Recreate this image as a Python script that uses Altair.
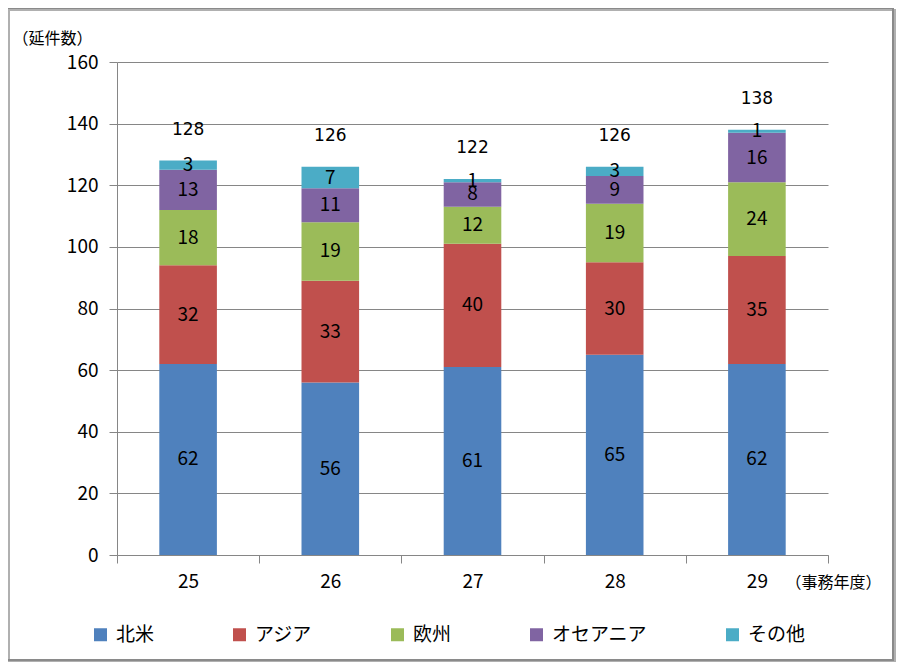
import altair as alt
import pandas as pd

years = ["25", "26", "27", "28", "29"]
regions = ["北米", "アジア", "欧州", "オセアニア", "その他"]
north_america = [62, 56, 61, 65, 62]
asia = [32, 33, 40, 30, 35]
europe = [18, 19, 12, 19, 24]
oceania = [13, 11, 8, 9, 16]
other = [3, 7, 1, 3, 1]
colors = ["#4F81BD", "#C0504D", "#9BBB59", "#8064A2", "#4BACC6"]
y_ticks = [0, 20, 40, 60, 80, 100, 120, 140, 160]

series = [north_america, asia, europe, oceania, other]
rows = []
for i, (reg, vals) in enumerate(zip(regions, series)):
    for y, v in zip(years, vals):
        rows.append({"year": y, "region": reg, "idx": i, "value": v})
df = pd.DataFrame(rows)

FONT = "Noto Sans CJK JP"

x_enc = alt.X(
    "year:N",
    sort=years,
    scale=alt.Scale(paddingInner=0, paddingOuter=0),
    axis=alt.Axis(
        title="（事務年度）",
        titleX=668, titleY=27, titleAlign="left", titleBaseline="middle",
        titleFontSize=16, titleFontWeight="normal", titleFont=FONT, titleColor="#000",
        labelAngle=0, labelFontSize=19, labelFont=FONT, labelColor="#000",
        labelPadding=9, tickBand="extent", tickSize=8, grid=False,
    ),
)

base = alt.Chart(df)

bars = base.mark_bar(width=alt.RelativeBandSize(0.405)).encode(
    x=x_enc,
    y=alt.Y(
        "value:Q",
        stack="zero",
        scale=alt.Scale(domain=[0, 160], nice=False),
        axis=alt.Axis(
            values=y_ticks,
            title="（延件数）",
            titleX=-105, titleY=-24, titleAngle=0, titleAlign="left",
            titleBaseline="middle", titleFontSize=16, titleFontWeight="normal",
            titleFont=FONT, titleColor="#000",
            labelFontSize=19, labelFont=FONT, labelColor="#000",
            labelPadding=11, tickSize=8,
        ),
    ),
    color=alt.Color(
        "region:N",
        sort=regions,
        scale=alt.Scale(domain=regions, range=colors),
        legend=alt.Legend(
            title=None, orient="none", legendX=-26, legendY=563,
            direction="horizontal", columns=5, symbolType="square",
            symbolSize=169, symbolStrokeWidth=0, labelFontSize=19, labelFont=FONT,
            labelColor="#000", labelOffset=6, columnPadding=75, padding=0,
        ),
    ),
    order=alt.Order("idx:Q", sort="ascending"),
)

seg_labels = base.transform_stack(
    stack="value", groupby=["year"], sort=[alt.SortField("idx", order="ascending")],
    as_=["y0", "y1"],
).transform_calculate(mid="(datum.y0 + datum.y1) / 2").mark_text(
    fontSize=19, font=FONT, color="#000", baseline="middle"
).encode(
    x=alt.X("year:N", sort=years),
    y=alt.Y("mid:Q"),
    text=alt.Text("value:Q"),
)

totals = base.transform_aggregate(total="sum(value)", groupby=["year"]).mark_text(
    fontSize=17, font="DejaVu Sans", color="#000", baseline="middle", dy=-31
).encode(
    x=alt.X("year:N", sort=years),
    y=alt.Y("total:Q"),
    text=alt.Text("total:Q"),
)

frame_df = pd.DataFrame({"k": [0]})
shadow = alt.Chart(frame_df).mark_rect(fill=None, stroke="#B0B0B0", strokeWidth=2).encode(
    x=alt.value(-108), x2=alt.value(778), y=alt.value(-52), y2=alt.value(600)
)
frame = alt.Chart(frame_df).mark_rect(fill=None, stroke="#8A8A8A", strokeWidth=2).encode(
    x=alt.value(-110), x2=alt.value(776), y=alt.value(-54), y2=alt.value(598)
)

chart = alt.layer(shadow, frame, bars, seg_labels, totals).properties(
    width=711, height=493,
    padding={"left": 109, "top": 54, "right": 70, "bottom": 107},
    autosize=alt.AutoSizeParams(type="none"),
    background="white",
).configure_view(stroke=None).configure_axis(
    gridColor="#868686", domainColor="#868686", tickColor="#868686",
    gridWidth=1, domainWidth=1,
)

chart.save("out.html", embed_options={"renderer": "svg", "actions": False})
